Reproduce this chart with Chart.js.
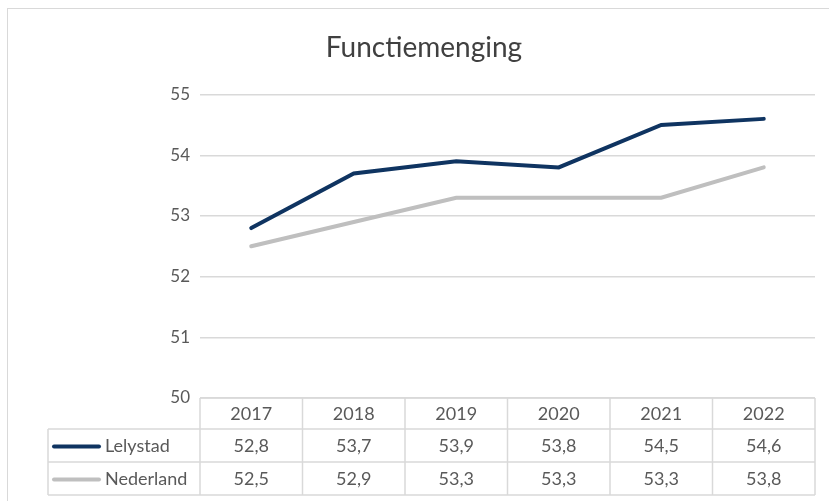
<!DOCTYPE html>
<html>
<head>
<meta charset="utf-8">
<script src="https://cdn.jsdelivr.net/npm/chart.js@4"></script>
<style>
  body { margin: 0; background: #fff; }
  #wrap { position: relative; width: 829px; height: 501px; overflow: hidden; }
  #frame { position: absolute; left: 7px; top: 8px; width: 840px; height: 520px; border: 1.5px solid #d9d9d9; box-sizing: border-box; }
  canvas { position: absolute; left: 0; top: 0; }
</style>
</head>
<body>
<div id="wrap">
  <div id="frame"></div>
  <canvas id="chart" width="829" height="501"></canvas>
</div>
<script>
// data
const years = ['2017', '2018', '2019', '2020', '2021', '2022'];
const lelystad = [52.8, 53.7, 53.9, 53.8, 54.5, 54.6];
const nederland = [52.5, 52.9, 53.3, 53.3, 53.3, 53.8];
const yTicks = [50, 51, 52, 53, 54, 55];

const textColor = '#595959';
const lineColor = '#d9d9d9';
const fontFamily = 'Lato, "Open Sans", sans-serif';

function fmt(v) {
    return v.toFixed(1).replace('.', ',');
}

// Data table under the plot (Excel style)
const dataTable = {
    id: 'dataTable',
    afterDraw(chart) {
        const ctx = chart.ctx;
        const x = chart.scales.x;
        const area = chart.chartArea;
        const half = (x.getPixelForValue(1) - x.getPixelForValue(0)) / 2;
        const left = area.left, right = area.right;
        const top = area.bottom;
        const rows = [top, top + 31, top + 64, top + 97];
        const labelLeft = 48;
        const series = chart.data.datasets;

        ctx.save();
        ctx.strokeStyle = lineColor;
        ctx.lineWidth = 1.5;
        ctx.beginPath();
        // horizontal lines
        ctx.moveTo(left, rows[0]); ctx.lineTo(right, rows[0]);
        for (let r = 1; r < rows.length; r++) {
            ctx.moveTo(labelLeft, rows[r]); ctx.lineTo(right, rows[r]);
        }
        // vertical lines
        ctx.moveTo(labelLeft, rows[1]); ctx.lineTo(labelLeft, rows[3]);
        years.forEach((y, i) => {
            const cx = x.getPixelForValue(i);
            ctx.moveTo(cx - half, rows[0]); ctx.lineTo(cx - half, rows[3]);
        });
        ctx.moveTo(right, rows[0]); ctx.lineTo(right, rows[3]);
        ctx.stroke();

        ctx.fillStyle = textColor;
        ctx.font = '18px ' + fontFamily;
        ctx.textBaseline = 'middle';
        ctx.textAlign = 'center';
        years.forEach((y, i) => {
            ctx.fillText(y, x.getPixelForValue(i), (rows[0] + rows[1]) / 2 + 1);
        });
        series.forEach((ds, r) => {
            const cy = (rows[r + 1] + rows[r + 2]) / 2 + 1;
            ctx.textAlign = 'center';
            ds.data.forEach((v, i) => {
                ctx.fillText(fmt(v), x.getPixelForValue(i), cy);
            });
            // legend key
            ctx.strokeStyle = ds.borderColor;
            ctx.lineWidth = 4;
            ctx.lineCap = 'round';
            ctx.beginPath();
            ctx.moveTo(54, cy); ctx.lineTo(99, cy);
            ctx.stroke();
            ctx.textAlign = 'left';
            ctx.fillText(ds.label, 105, cy);
        });
        ctx.restore();
    }
};

new Chart(document.getElementById('chart'), {
    type: 'line',
    data: {
        labels: years,
        datasets: [
            {
                label: 'Lelystad',
                data: lelystad,
                borderColor: '#0f3461',
                borderWidth: 4,
                pointRadius: 0,
                borderCapStyle: 'round',
                tension: 0
            },
            {
                label: 'Nederland',
                data: nederland,
                borderColor: '#bfbfbf',
                borderWidth: 4,
                pointRadius: 0,
                borderCapStyle: 'round',
                tension: 0
            }
        ]
    },
    options: {
        responsive: false,
        animation: false,
        layout: { padding: { left: 33, right: 14, top: 0, bottom: 95 } },
        plugins: {
            legend: { display: false },
            tooltip: { enabled: false },
            title: {
                display: true,
                text: 'Functiemenging',
                color: '#404040',
                font: { family: fontFamily, size: 28, weight: 'normal' },
                padding: { top: 31, bottom: 30 }
            }
        },
        scales: {
            x: {
                offset: true,
                grid: { display: false },
                border: { display: false },
                ticks: { display: false }
            },
            y: {
                min: 50,
                max: 55,
                afterFit(scale) { scale.width = 167; },
                afterBuildTicks(scale) { scale.ticks = yTicks.map(v => ({ value: v })); },
                grid: { color: lineColor, lineWidth: 1.5, drawTicks: false },
                border: { display: false },
                ticks: {
                    color: textColor,
                    padding: 10,
                    font: { family: fontFamily, size: 17 }
                }
            }
        }
    },
    plugins: [dataTable]
});
</script>
</body>
</html>
